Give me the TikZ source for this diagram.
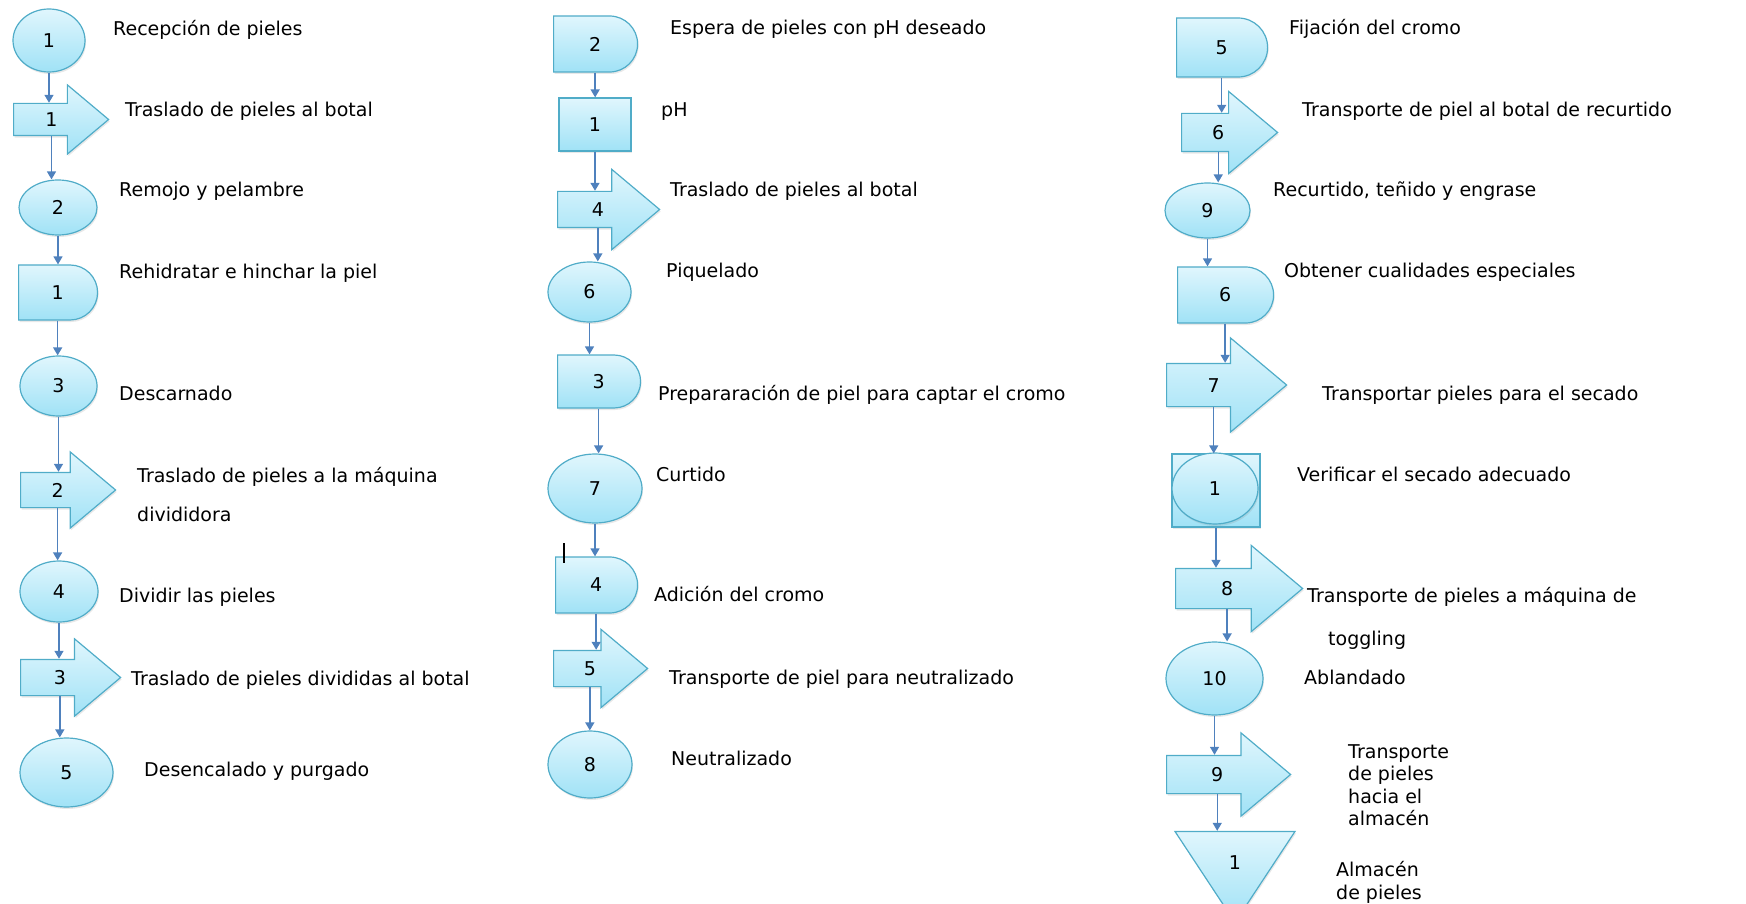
\documentclass[tikz,border=0pt]{standalone}
\usepackage{fontspec}
\setmainfont{DejaVu Sans}
\usetikzlibrary{
    arrows.meta,
    shapes.geometric,
    shapes.arrows,
    shapes.misc,
    shadows
}

\definecolor{shptop}{RGB}{224,246,253}
\definecolor{shpbot}{RGB}{160,226,246}
\definecolor{shpline}{RGB}{80,172,200}
\definecolor{flowblue}{RGB}{79,129,189}

\begin{document}
\begin{tikzpicture}[x=1pt,y=-1pt,
    shp/.style={draw=shpline, line width=1.2pt, top color=shptop, bottom color=shpbot,
        inner sep=0pt, font=\fontsize{19}{22}\selectfont,
        drop shadow={opacity=0.18, shadow xshift=1pt, shadow yshift=-2pt}},
    oper/.style={shp, ellipse},
    delay/.style={shp, rounded rectangle, rounded rectangle west arc=none, anchor=west},
    insp/.style={shp, rectangle},
    transp/.style={shp, single arrow, single arrow tip angle=80,
        text height=14pt, text depth=0pt, anchor=tail},
    store/.style={shp, isosceles triangle, isosceles triangle stretches,
        shape border rotate=270, anchor=apex},
    flow/.style={draw=flowblue, line width=1.4pt, -{Triangle[length=8pt,width=9pt]}},
    txt/.style={anchor=base west, inner sep=0pt, yshift=-2pt, font=\fontsize{19}{22.6}\selectfont},
    txtblock/.style={txt, anchor=north west, align=left}]
\useasboundingbox (0,0) rectangle (1746,904);

% Column 1
\node[oper, minimum width=72pt, minimum height=63pt] (e1) at (49,40.5) {1};
\node[transp, minimum height=95pt, single arrow head extend=18.5pt, inner ysep=8.5pt] (a1) at (13,119.5) {1};
\node[oper, minimum width=78pt, minimum height=55pt] (e2) at (58,207.5) {2};
\node[delay, minimum width=79pt, minimum height=55pt] (d1) at (18,292.5) {1};
\node[oper, minimum width=77pt, minimum height=60pt] (e3) at (58.5,386) {3};
\node[transp, minimum height=95pt, single arrow head extend=20.5pt, inner ysep=10pt] (a2) at (20,490) {2};
\node[oper, minimum width=78pt, minimum height=61pt] (e4) at (59,591.5) {4};
\node[transp, minimum height=100pt, single arrow head extend=20.5pt, inner ysep=10.5pt] (a3) at (20,677.5) {3};
\node[oper, minimum width=93pt, minimum height=69pt] (e5) at (66.5,772.5) {5};

\node[txt] (t1) at (113,34) {Recepción de pieles};
\node[txt] (t2) at (125,115) {Traslado de pieles al botal};
\node[txt] (t3) at (119,195) {Remojo y pelambre};
\node[txt] (t4) at (119,276) {Rehidratar e hinchar la piel};
\node[txt] (t5) at (119,398) {Descarnado};
\node[txt] (t6) at (137,480) {Traslado de pieles a la máquina};
\node[txt] (t6b) at (137,519) {divididora};
\node[txt] (t7) at (119,600) {Dividir las pieles};
\node[txt] (t8) at (131,683) {Traslado de pieles divididas al botal};
\node[txt] (t9) at (144,774) {Desencalado y purgado};

\draw[flow] (e1.south) -- (e1.south |- a1.north);
\draw[flow] (a1.south) -- (a1.south |- e2.north);
\draw[flow] (e2.south) -- (e2.south |- d1.north);
\draw[flow] (d1.south) -- (d1.south |- e3.north);
\draw[flow] (e3.south) -- (e3.south |- a2.north);
\draw[flow] (a2.south) -- (a2.south |- e4.north);
\draw[flow] (e4.south) -- (e4.south |- a3.north);
\draw[flow] (a3.south) -- (a3.south |- e5.north);

% Column 2
\node[delay, minimum width=84pt, minimum height=56pt] (d2) at (553,44) {2};
\node[insp, minimum width=72pt, minimum height=53pt] (r1) at (595,124.5) {1};
\node[transp, minimum height=102pt, single arrow head extend=22pt, inner ysep=10.5pt] (a4) at (557,209.5) {4};
\node[oper, minimum width=83pt, minimum height=60pt] (e6) at (589.5,292) {6};
\node[delay, minimum width=83pt, minimum height=53pt] (d3) at (557,381.5) {3};
\node[oper, minimum width=94pt, minimum height=69pt] (e7) at (595,488.5) {7};
\node[delay, minimum width=82pt, minimum height=56pt] (d4) at (555,585) {4};
\node[transp, minimum height=94pt, single arrow head extend=21pt, inner ysep=10.5pt] (a5) at (553,668.5) {5};
\node[oper, minimum width=84pt, minimum height=67pt] (e8) at (590,764.5) {8};

\node[txt] (u1) at (670,33) {Espera de pieles con pH deseado};
\node[txt] (u2) at (661,115) {pH};
\node[txt] (u3) at (670,195) {Traslado de pieles al botal};
\node[txt] (u4) at (666,275) {Piquelado};
\node[txt] (u5) at (658,398) {Prepararación de piel para captar el cromo};
\node[txt] (u6) at (656,479) {Curtido};
\node[txt] (u7) at (654,599) {Adición del cromo};
\node[txt] (u8) at (669,682) {Transporte de piel para neutralizado};
\node[txt] (u9) at (671,763) {Neutralizado};

\draw[flow] (d2.south) -- (d2.south |- r1.north);
\draw[flow] (r1.south) -- (r1.south |- a4.north);
\draw[flow] (a4.south) -- (a4.south |- e6.north);
\draw[flow] (e6.south) -- (e6.south |- d3.north);
\draw[flow] (d3.south) -- (d3.south |- e7.north);
\draw[flow] (e7.south) -- (e7.south |- d4.north);
\draw[flow] (d4.south) -- (d4.south |- a5.north);
\draw[flow] (a5.south) -- (a5.south |- e8.north);
\draw[line width=1.2pt] (564,543) -- (564,563);

% Column 3
\node[delay, minimum width=91pt, minimum height=59pt] (d5) at (1176,47.5) {5};
\node[transp, minimum height=96pt, single arrow head extend=22pt, inner ysep=11.5pt] (a6) at (1181,132.5) {6};
\node[oper, minimum width=85pt, minimum height=55pt] (e9) at (1207.5,210.5) {9};
\node[delay, minimum width=96pt, minimum height=56pt] (d6) at (1177,295) {6};
\node[transp, minimum height=120pt, single arrow head extend=25.5pt, inner ysep=14pt] (a7) at (1166,385) {7};
\node[insp, minimum width=88pt, minimum height=73pt] (i1) at (1216,490.5) {};
\node[oper, minimum width=86pt, minimum height=71pt] (o1) at (1215,488.5) {1};
\node[transp, minimum height=127pt, single arrow head extend=23pt, inner ysep=12.5pt] (a8) at (1175,588.5) {8};
\node[oper, minimum width=97pt, minimum height=73pt] (e10) at (1214.5,678.5) {10};
\node[transp, minimum height=124pt, single arrow head extend=22.5pt, inner ysep=11.5pt] (a9) at (1166,774.5) {9};
\node[store, minimum width=120pt, minimum height=91pt] (s1) at (1235,924) {1};

\node[txt] (v1) at (1289,33) {Fijación del cromo};
\node[txt] (v2) at (1302,115) {Transporte de piel al botal de recurtido};
\node[txt] (v3) at (1273,195) {Recurtido, teñido y engrase};
\node[txt] (v4) at (1284,275) {Obtener cualidades especiales};
\node[txt] (v5) at (1322,398) {Transportar pieles para el secado};
\node[txt] (v6) at (1297,479) {Verificar el secado adecuado};
\node[txt] (v7) at (1307,600) {Transporte de pieles a máquina de};
\node[txt] (v7b) at (1328,643) {toggling};
\node[txt] (v8) at (1304,682) {Ablandado};
\node[txtblock] (v9) at (1348,742) {Transporte\\de pieles\\hacia el\\almacén};
\node[txtblock] (v10) at (1336,859) {Almacén\\de pieles};

\draw[flow] (d5.south) -- (d5.south |- a6.north);
\draw[flow] (a6.south) -- (a6.south |- e9.north);
\draw[flow] (e9.south) -- (e9.south |- d6.north);
\draw[flow] (d6.south) -- (d6.south |- a7.north);
\draw[flow] (a7.south) -- (a7.south |- i1.north);
\draw[flow] (i1.south) -- (i1.south |- a8.north);
\draw[flow] (a8.south) -- (a8.south |- e10.north);
\draw[flow] (e10.south) -- (e10.south |- a9.north);
\draw[flow] (a9.south) -- (a9.south |- s1.lower side);
\end{tikzpicture}
\end{document}
